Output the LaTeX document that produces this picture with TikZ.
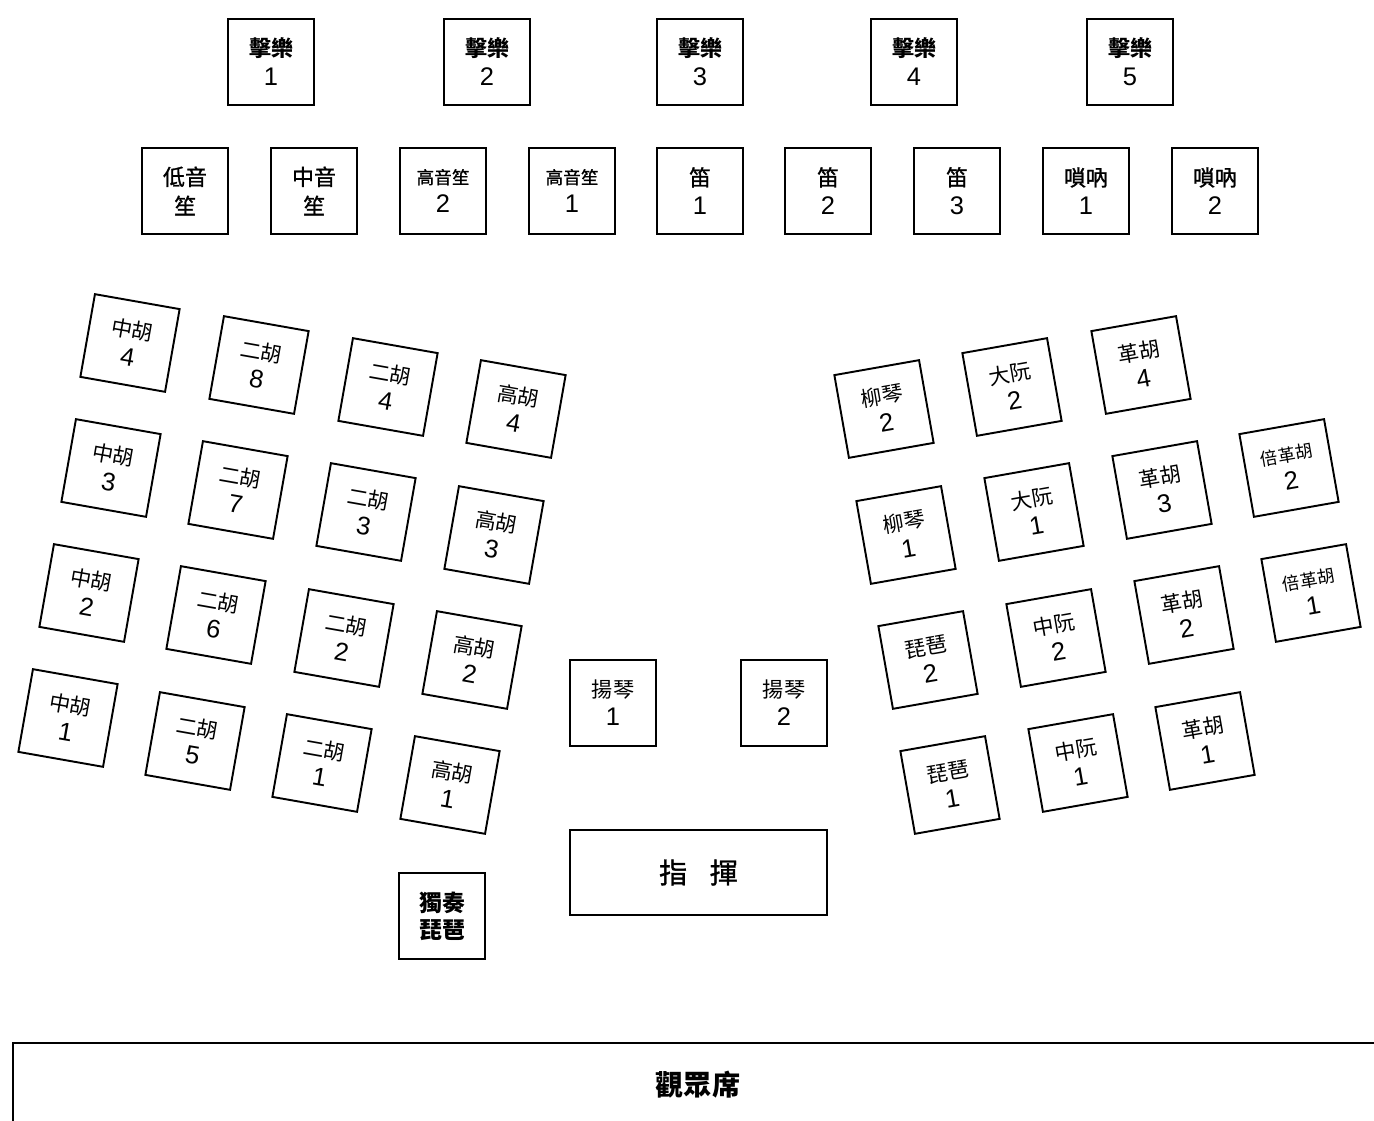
\documentclass[tikz,border=0pt]{standalone}
\usepackage{fontspec}
\newfontfamily\cjk{Noto Sans CJK TC}
\newfontfamily\cjkmed[FakeBold=1.2]{Noto Sans CJK TC}
\newfontfamily\dig{Liberation Sans}
\newcommand\seatnum[1]{{\dig\mdseries\fontsize{14.5}{16.5}\selectfont #1}}
\begin{document}
\begin{tikzpicture}[x=0.02cm,y=-0.02cm,
  seat/.style={draw, line width=1.1pt, minimum width=1.72cm, minimum height=1.72cm,
    inner sep=0pt, align=center, font=\cjk\fontsize{12}{16}\selectfont},
  boldseat/.style={seat, font=\cjk\bfseries\fontsize{12.5}{16.5}\selectfont},
  medseat/.style={seat, font=\cjkmed\fontsize{12.5}{16.5}\selectfont},
  lseat/.style={seat, rotate=-10, minimum width=1.72cm, minimum height=1.68cm},
  rseat/.style={seat, rotate=10, minimum width=1.72cm, minimum height=1.68cm},
  big/.style={font=\cjk\bfseries\fontsize{16}{20}\selectfont}
]
\useasboundingbox (0,0) rectangle (1374,1121);
% percussion
\node[boldseat] (p1) at (271,62) {擊樂\\\seatnum{1}};
\node[boldseat] (p2) at (487,62) {擊樂\\\seatnum{2}};
\node[boldseat] (p3) at (700,62) {擊樂\\\seatnum{3}};
\node[boldseat] (p4) at (914,62) {擊樂\\\seatnum{4}};
\node[boldseat] (p5) at (1130,62) {擊樂\\\seatnum{5}};
% winds
\node[medseat] (w1) at (185,191) {低音\\笙};
\node[medseat] (w2) at (314,191) {中音\\笙};
\node[medseat] (w3) at (443,191) {{\fontsize{10}{16.5}\selectfont 高音笙}\\\seatnum{2}};
\node[medseat] (w4) at (572,191) {{\fontsize{10}{16.5}\selectfont 高音笙}\\\seatnum{1}};
\node[medseat] (w5) at (700,191) {笛\\\seatnum{1}};
\node[medseat] (w6) at (828,191) {笛\\\seatnum{2}};
\node[medseat] (w7) at (957,191) {笛\\\seatnum{3}};
\node[medseat] (w8) at (1086,191) {嗩吶\\\seatnum{1}};
\node[medseat] (w9) at (1215,191) {嗩吶\\\seatnum{2}};
% left strings
\node[lseat] (l11) at (130,343) {中胡\\\seatnum{4}};
\node[lseat] (l12) at (259,365) {二胡\\\seatnum{8}};
\node[lseat] (l13) at (388,387) {二胡\\\seatnum{4}};
\node[lseat] (l14) at (516,409) {高胡\\\seatnum{4}};
\node[lseat] (l21) at (111,468) {中胡\\\seatnum{3}};
\node[lseat] (l22) at (238,490) {二胡\\\seatnum{7}};
\node[lseat] (l23) at (366,512) {二胡\\\seatnum{3}};
\node[lseat] (l24) at (494,535) {高胡\\\seatnum{3}};
\node[lseat] (l31) at (89,593) {中胡\\\seatnum{2}};
\node[lseat] (l32) at (216,615) {二胡\\\seatnum{6}};
\node[lseat] (l33) at (344,638) {二胡\\\seatnum{2}};
\node[lseat] (l34) at (472,660) {高胡\\\seatnum{2}};
\node[lseat] (l41) at (68,718) {中胡\\\seatnum{1}};
\node[lseat] (l42) at (195,741) {二胡\\\seatnum{5}};
\node[lseat] (l43) at (322,763) {二胡\\\seatnum{1}};
\node[lseat] (l44) at (450,785) {高胡\\\seatnum{1}};
% right plucked / bass
\node[rseat] (r11) at (884,409) {柳琴\\\seatnum{2}};
\node[rseat] (r12) at (1012,387) {大阮\\\seatnum{2}};
\node[rseat] (r13) at (1141,365) {革胡\\\seatnum{4}};
\node[rseat] (r21) at (906,535) {柳琴\\\seatnum{1}};
\node[rseat] (r22) at (1034,512) {大阮\\\seatnum{1}};
\node[rseat] (r23) at (1162,490) {革胡\\\seatnum{3}};
\node[rseat] (r24) at (1289,468) {{\fontsize{10}{16}\selectfont 倍革胡}\\\seatnum{2}};
\node[rseat] (r31) at (928,660) {琵琶\\\seatnum{2}};
\node[rseat] (r32) at (1056,638) {中阮\\\seatnum{2}};
\node[rseat] (r33) at (1184,615) {革胡\\\seatnum{2}};
\node[rseat] (r34) at (1311,593) {{\fontsize{10}{16}\selectfont 倍革胡}\\\seatnum{1}};
\node[rseat] (r41) at (950,785) {琵琶\\\seatnum{1}};
\node[rseat] (r42) at (1078,763) {中阮\\\seatnum{1}};
\node[rseat] (r43) at (1205,741) {革胡\\\seatnum{1}};
% yangqin, conductor, soloist
\node[seat] (y1) at (613,703) {揚琴\\\seatnum{1}};
\node[seat] (y2) at (784,703) {揚琴\\\seatnum{2}};
\node[seat, minimum width=5.14cm, minimum height=1.7cm, font=\cjkmed\fontsize{16}{20}\selectfont] (cond) at (698.5,872.5) {指\hspace{0.8em}揮};
\node[boldseat, font=\cjk\bfseries\fontsize{13}{15.5}\selectfont] (solo) at (442,916) {獨奏\\琵琶};
% audience
\coordinate (aud1) at (13,1121);
\coordinate (aud2) at (13,1043);
\coordinate (aud3) at (1374,1043);
\draw[line width=1.1pt] (aud1) -- (aud2) -- (aud3);
\node[big] (aud) at (698,1085) {觀眾席};
\end{tikzpicture}
\end{document}
